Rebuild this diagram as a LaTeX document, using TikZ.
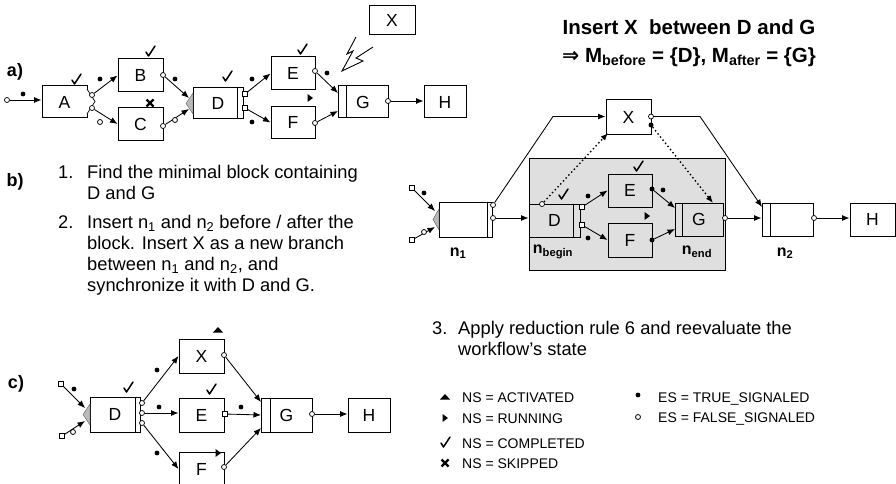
\documentclass[tikz,border=0pt]{standalone}
\usepackage{fontspec}
\setmainfont{Liberation Sans}
\newfontfamily\symfont{DejaVu Sans}
\usetikzlibrary{arrows.meta}
\tikzset{
  sz/.style 2 args={minimum width=#1pt, minimum height=#2pt},
  box/.style={draw, line width=1pt, inner sep=0pt, font=\fontsize{17.5}{17.5}\selectfont},
  arr/.style={line width=0.85pt, -{Latex[length=7.5pt,width=6pt]}},
  dotarr/.style={arr, line width=1.4pt, dash pattern=on 1.4pt off 2.6pt},
  port/.style={circle, draw, fill=white, inner sep=0pt, minimum size=5pt, line width=0.7pt},
  dport/.style={circle, fill=black, inner sep=0pt, minimum size=5pt},
  sport/.style={rectangle, draw, fill=white, inner sep=0pt, minimum size=4.5pt, line width=0.7pt},
  joinsym/.style={fill=gray!55, draw=gray!70!black, line width=0.4pt},
  lab/.style={font=\fontsize{16}{16}\selectfont\bfseries, inner sep=0pt},
  sec/.style={font=\fontsize{18}{18}\selectfont\bfseries, inner sep=0pt},
  txt/.style={font=\fontsize{18.3}{18.3}\selectfont, inner sep=0pt, anchor=base west},
  leg/.style={font=\fontsize{14}{14}\selectfont, inner sep=0pt, anchor=base west},
  ttl/.style={font=\fontsize{20.5}{20.5}\selectfont\bfseries, inner sep=0pt, anchor=base},
  chk/.pic={\draw[line width=1.5pt, line join=round, line cap=round] (-4,0) -- (-1.5,4) -- (5,-6);},
  skp/.pic={\draw[line width=2.4pt] (-3.5,-3.5) -- (3.5,3.5) (-3.5,3.5) -- (3.5,-3.5);},
  run/.pic={\fill (-2.5,-4) -- (3,0) -- (-2.5,4) -- cycle;},
  act/.pic={\fill (-5,2.5) -- (0,-3) -- (5,2.5) -- cycle;},
  tdot/.pic={\fill (0,0) circle (2.4pt);},
  fdot/.pic={\draw[line width=0.8pt, fill=white] (0,0) circle (2.5pt);},
}
\begin{document}
\begin{tikzpicture}[x=1pt,y=-1pt]
\useasboundingbox (0,0) rectangle (896,484);
\fill[white] (0,0) rectangle (896,484);

% ---------------- section a ----------------
\node[sec] (la) at (15,72) {a)};
\node[box,sz={45}{32}] (aA) at (64.5,102) {A};
\node[box,sz={45}{33}] (aB) at (140.5,75.5) {B};
\node[box,sz={45}{32}] (aC) at (140.5,124) {C};
\node[box,sz={50}{31}] (aD) at (218,103.5) {D};
\node[box,sz={44}{33}] (aE) at (293,73.5) {E};
\node[box,sz={44}{31}] (aF) at (293,122.5) {F};
\node[box,sz={50}{32}] (aG) at (363,102) {G};
\node[box,sz={42}{32}] (aH) at (445,102) {H};
\node[box,sz={46}{29}] (aX) at (392,20.5) {X};
\draw[line width=1pt] ([xshift=-6pt]aD.north east) -- ([xshift=-6pt]aD.south east);
\draw[line width=1pt] ([xshift=9pt]aG.north west) -- ([xshift=9pt]aG.south west);
% split of A, join of D
\draw[line width=0.7pt, fill=white] (87,89) -- (95,101.5) -- (87,114);
\draw[joinsym] (193,93) -- (186,103.5) -- (193,114) -- cycle;
\coordinate (aDj1) at (189,98);
\coordinate (aDj2) at (189,109);
\coordinate (aGj1) at (338,93);
\coordinate (aGj2) at (338,111);
% ports
\node[port] (a0) at (7,100) {};
\node[port] (aAo1) at (92,95) {};
\node[port] (aAo2) at (92,108) {};
\node[port] (aBo) at (163,75) {};
\node[port] (aCo) at (163,126) {};
\node[sport] (aDo1) at (245,94) {};
\node[sport] (aDo2) at (245,108) {};
\node[port] (aEo) at (315,71) {};
\node[port] (aFo) at (315,123) {};
\node[port] (aGo) at (388,101) {};
% edges
\draw[arr] (a0) -- (a0 -| aA.west);
\draw[arr] (aAo1) -- (aB.west);
\draw[arr] (aAo2) -- (aC.west);
\draw[arr] (aBo) -- (aDj1);
\draw[arr] (aCo) -- (aDj2);
\draw[arr] (aDo1) -- (aE.west);
\draw[arr] (aDo2) -- (aF.west);
\draw[arr] (aEo) -- (aGj1);
\draw[arr] (aFo) -- (aGj2);
\draw[arr] (aGo) -- (aGo -| aH.west);
% lightning arrow
\draw[line width=0.9pt, line join=miter] (356,37) -- (347,54) -- (353,51) -- (342,71) -- (363,61) -- (356,58) -- (373,47);
% markers
\pic at (23,94) {tdot};
\pic at (100,79) {tdot};
\pic at (100,122) {fdot};
\pic at (175,79) {tdot};
\pic at (175,120) {fdot};
\pic at (252,79) {tdot};
\pic at (252,122) {tdot};
\pic at (327,73) {tdot};
\pic at (76,80) {chk};
\pic at (150,52) {chk};
\pic at (150,103) {skp};
\pic at (227,77) {chk};
\pic at (302,50) {chk};
\pic at (310,98) {run};

% ---------------- title ----------------
\node[ttl] (t0a) at (689,34.3) {Insert X\ \ between D and G};
\node[ttl] (t0b) at (689,62.3) {{\symfont\bfseries ⇒} M\textsubscript{before} = \{D\}, M\textsubscript{after} = \{G\}};

% ---------------- section b text ----------------
\node[sec] (lb) at (15,182) {b)};
\node[txt] (n1a) at (58,178.5) {1.};
\node[txt] (t1a) at (87,178.5) {Find the minimal block containing};
\node[txt] (t1b) at (87,199.5) {D and G};
\node[txt] (n2a) at (58,228.5) {2.};
\node[txt] (t2a) at (87,228.5) {Insert n\textsubscript{1} and n\textsubscript{2} before / after the};
\node[txt] (t2b) at (87,249.5) {block. Insert X as a new branch};
\node[txt] (t2c) at (87,270.5) {between n\textsubscript{1} and n\textsubscript{2}, and};
\node[txt] (t2d) at (87,291.5) {synchronize it with D and G.};

% ---------------- section b diagram ----------------
\node[draw, line width=1pt, fill=gray!25, sz={196}{112}, inner sep=0pt] (blk) at (627,214) {};
\node[box,sz={45}{34}] (bX) at (628.5,117) {X};
\node[box,sz={53}{35}] (bn1) at (465.5,219.5) {};
\node[box,sz={51}{33}] (bD) at (554.5,220.5) {D};
\node[box,sz={44}{33}] (bE) at (630,190.5) {E};
\node[box,sz={44}{34}] (bF) at (630,240) {F};
\node[box,sz={48}{33}] (bG) at (699,219.5) {G};
\node[box,sz={51}{33}] (bn2) at (787.5,219.5) {};
\node[box,sz={45}{33}] (bH) at (872.5,219.5) {H};
\draw[line width=1pt] ([xshift=-5pt]bn1.north east) -- ([xshift=-5pt]bn1.south east);
\draw[line width=1pt] ([xshift=-7pt]bD.north east) -- ([xshift=-7pt]bD.south east);
\draw[line width=1pt] ([xshift=8pt]bG.north west) -- ([xshift=8pt]bG.south west);
\draw[line width=1pt] ([xshift=9pt]bn2.north west) -- ([xshift=9pt]bn2.south west);
\draw[joinsym] (439,209) -- (433,219.5) -- (439,230) -- cycle;
\node[lab] (ln1) at (458,253) {n\textsubscript{1}};
\node[lab] (lnb) at (553,252) {n\textsubscript{begin}};
\node[lab] (lne) at (697,252) {n\textsubscript{end}};
\node[lab] (ln2) at (785,253) {n\textsubscript{2}};
% ports and waypoints
\node[sport] (bs1) at (412,188) {};
\node[sport] (bs2) at (412,240) {};
\coordinate (bj1) at (435,211);
\coordinate (bj2) at (435,227);
\node[port] (bn1o1) at (493,205) {};
\node[port] (bn1o2) at (493,218) {};
\node[port] (bDo0) at (542,204) {};
\node[sport] (bDo1) at (582,207) {};
\node[sport] (bDo2) at (582,225) {};
\node[port] (bXo1) at (651,116.5) {};
\node[dport] (bXo2) at (651,125) {};
\node[dport] (bEo) at (652,189) {};
\node[dport] (bFo) at (652,240) {};
\node[port] (bGo) at (725,218) {};
\node[port] (bn2o) at (814,218) {};
\coordinate (bw1) at (553,116.5);
\coordinate (bw2) at (700,116.5);
\coordinate (bn2j) at (762,207);
\coordinate (bGj1) at (675,208);
\coordinate (bGj2) at (675,229);
\coordinate (bGt) at (713,203);
\coordinate (bXb) at (608,133);
% edges
\draw[arr] (bs1) -- (bj1);
\draw[arr] (bs2) -- (bj2);
\draw[arr] (bn1o1) -- (bw1) -- (bX.west |- bw1);
\draw[arr] (bn1o2) -- (bn1o2 -| bD.west);
\draw[dotarr] (bDo0) -- (bXb);
\draw[arr] (bDo1) -- (bE.west);
\draw[arr] (bDo2) -- (bF.west);
\draw[arr] (bEo) -- (bGj1);
\draw[arr] (bFo) -- (bGj2);
\draw[arr] (bXo1) -- (bw2) -- (bn2j);
\draw[dotarr] (bXo2) -- (bGt);
\draw[arr] (bGo) -- (bGo -| bn2.west);
\draw[arr] (bn2o) -- (bn2o -| bH.west);
% markers
\pic at (424,193) {tdot};
\pic at (424,232) {fdot};
\pic at (563,195) {chk};
\pic at (588,196) {tdot};
\pic at (588,238) {tdot};
\pic at (638,167) {chk};
\pic at (663,190) {tdot};
\pic at (647,216) {run};

% ---------------- section c ----------------
\node[sec] (lc) at (16,384) {c)};
\node[box,sz={50}{35}] (cD) at (115,414.5) {D};
\node[box,sz={45}{34}] (cX) at (201.5,356) {X};
\node[box,sz={45}{34}] (cE) at (201.5,415) {E};
\node[box,sz={45}{34}] (cF) at (201.5,469) {F};
\node[box,sz={51}{34}] (cG) at (286.5,415) {G};
\node[box,sz={42}{34}] (cH) at (369,415) {H};
\draw[line width=1pt] ([xshift=-5pt]cD.north east) -- ([xshift=-5pt]cD.south east);
\draw[line width=1pt] ([xshift=10pt]cG.north west) -- ([xshift=10pt]cG.south west);
\draw[joinsym] (90,404) -- (83,414.5) -- (90,425) -- cycle;
\node[sport] (cs1) at (61,384) {};
\node[sport] (cs2) at (62,436) {};
\coordinate (cj1) at (85,408);
\coordinate (cj2) at (85,421);
\node[port] (cDo1) at (142,403) {};
\node[port] (cDo2) at (142,413) {};
\node[port] (cDo3) at (142,423) {};
\node[port] (cXo) at (224,355) {};
\node[sport] (cEo) at (225,414) {};
\node[port] (cFo) at (224,467) {};
\node[port] (cGo) at (312,414) {};
\coordinate (cGj1) at (261,402);
\coordinate (cGj2) at (261,415);
\coordinate (cGj3) at (261,428);
\draw[arr] (cs1) -- (cj1);
\draw[arr] (cs2) -- (cj2);
\draw[arr] (cDo1) -- (cX.west);
\draw[arr] (cDo2) -- (cDo2 -| cE.west);
\draw[arr] (cDo3) -- (cF.west);
\draw[arr] (cXo) -- (cGj1);
\draw[arr] (cEo) -- (cGj2);
\draw[arr] (cFo) -- (cGj3);
\draw[arr] (cGo) -- (cGo -| cH.west);
\pic at (74,389) {tdot};
\pic at (73,432) {fdot};
\pic at (128,388) {chk};
\pic at (157,370) {tdot};
\pic at (159,407) {tdot};
\pic at (157,453) {tdot};
\pic at (241,407) {tdot};
\pic at (218,330) {act};
\pic at (211,390) {chk};
\pic at (218,453) {run};

% ---------------- step 3 and legend ----------------
\node[txt] (n3a) at (432,334.5) {3.};
\node[txt] (t3a) at (458,334.5) {Apply reduction rule 6 and reevaluate the};
\node[txt] (t3b) at (458,355.5) {workflow's state};
\pic at (445,397) {act};
\pic at (445,418) {run};
\pic at (445,443) {chk};
\pic at (445,463) {skp};
\node[leg] (g1) at (462,402) {NS = ACTIVATED};
\node[leg] (g2) at (462,423) {NS = RUNNING};
\node[leg] (g3) at (462,448) {NS = COMPLETED};
\node[leg] (g4) at (462,468) {NS = SKIPPED};
\pic at (638,395) {tdot};
\pic at (638,417) {fdot};
\node[leg] (g5) at (658,402) {ES = TRUE\_SIGNALED};
\node[leg] (g6) at (658,422) {ES = FALSE\_SIGNALED};
\end{tikzpicture}
\end{document}
